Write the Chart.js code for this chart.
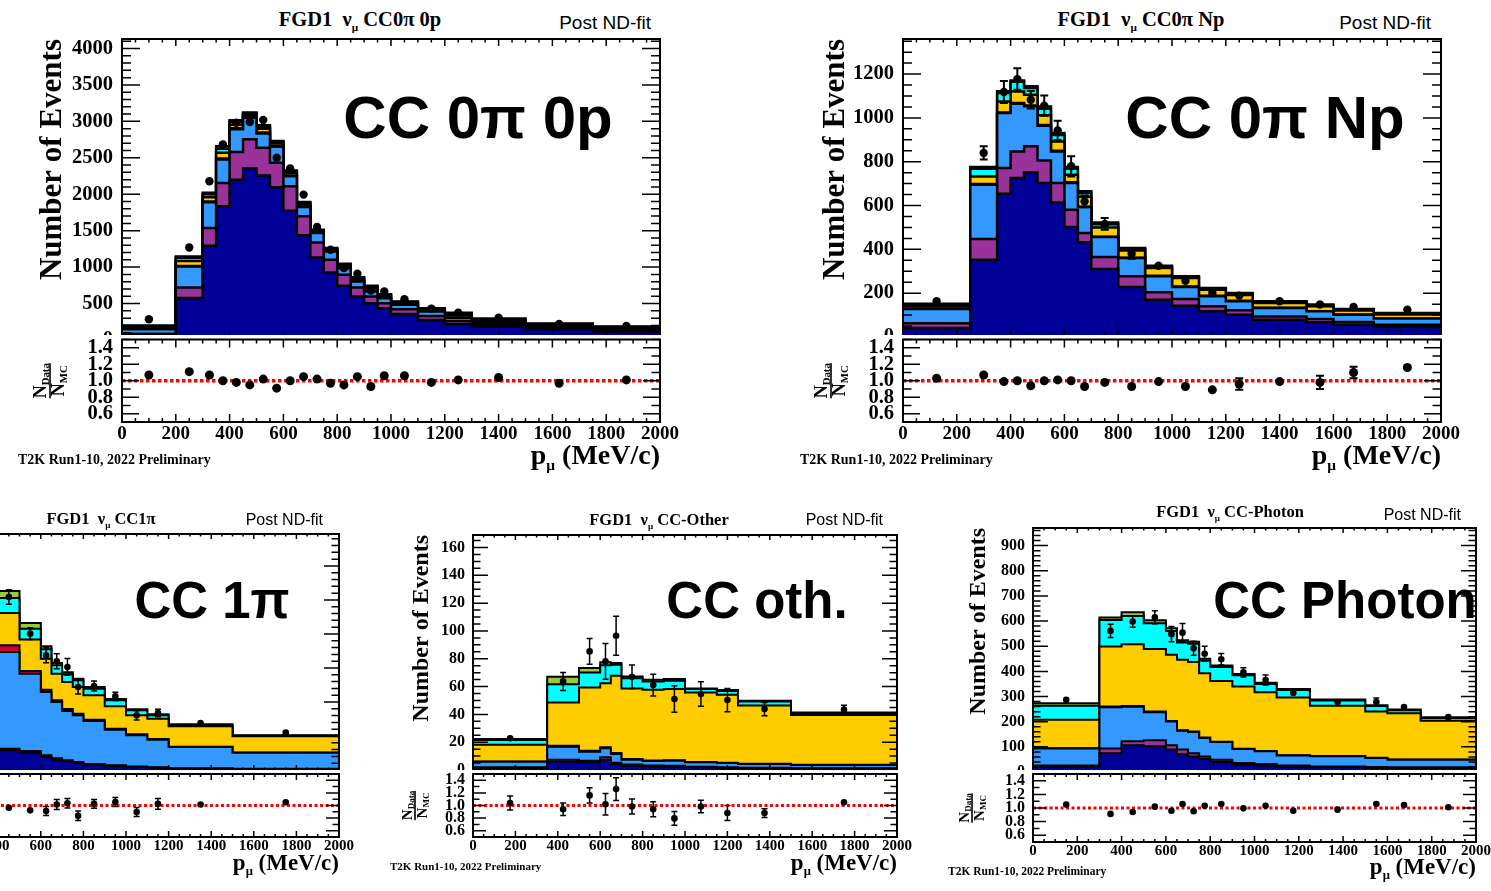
<!DOCTYPE html>
<html>
<head>
<meta charset="utf-8">
<script src="https://cdn.jsdelivr.net/npm/chart.js@4.4.1/dist/chart.umd.min.js"></script>
<style>
  body { margin: 0; width: 1491px; height: 891px; overflow: hidden; background: #fff; position: relative; }
  canvas { position: absolute; }
  .t { position: absolute; white-space: nowrap; color: #000; line-height: 1; }
  .serif { font-family: "Liberation Serif", "Times New Roman", serif; font-weight: bold; }
  .sans { font-family: "Liberation Sans", Arial, sans-serif; }
  .big { font-family: "Liberation Sans", Arial, sans-serif; font-weight: bold; }
  .sub { font-size: 0.55em; position: relative; top: 0.4em; }
</style>
</head>
<body>
<script>
// ---- axis ticks ----
const MOMENTUM_TICKS = [0, 200, 400, 600, 800, 1000, 1200, 1400, 1600, 1800, 2000];
const RATIO_TICKS = [0.6, 0.8, 1.0, 1.2, 1.4];
const s0pYTicks = [0, 500, 1000, 1500, 2000, 2500, 3000, 3500, 4000];
const sNpYTicks = [0, 200, 400, 600, 800, 1000, 1200];
const s1piYTicks = [0, 500, 1000, 1500, 2000, 2500, 3000];
const sOthYTicks = [0, 20, 40, 60, 80, 100, 120, 140, 160];
const sPhoYTicks = [0, 100, 200, 300, 400, 500, 600, 700, 800, 900];

// ---- FGD1 numu CC0pi 0p ----
const s0pEdges = [0, 200, 300, 350, 400, 450, 500, 550, 600, 650, 700, 750, 800, 850, 900, 950, 1000, 1100, 1200, 1300, 1500, 1750, 2000];
const s0pQE  = [78, 575, 1293, 1835, 2200, 2353, 2257, 2096, 1775, 1436, 1133, 927, 743, 596, 505, 436, 358, 275, 220, 183, 147, 115];
const s0pMEC = [8, 145, 244, 320, 380, 400, 380, 335, 335, 261, 206, 174, 151, 124, 91, 69, 64, 55, 40, 25, 15, 12];
const s0pRES = [62, 290, 353, 322, 310, 297, 198, 220, 138, 129, 129, 115, 92, 83, 69, 68, 60, 60, 45, 30, 23, 23];
const s0pCOH = [2, 5, 10, 13, 15, 15, 12, 10, 8, 6, 4, 3, 3, 2, 2, 2, 1, 1, 1, 1, 1, 1];
const s0pDIS = [25, 70, 60, 80, 50, 25, 50, 35, 35, 30, 20, 20, 28, 30, 40, 30, 25, 25, 35, 30, 20, 18];
const s0pNC  = [15, 45, 40, 55, 40, 20, 30, 20, 20, 18, 12, 12, 15, 15, 20, 13, 12, 12, 20, 15, 12, 10];
const s0pBkg = [10, 15, 20, 35, 20, 10, 20, 15, 15, 14, 10, 10, 14, 12, 16, 10, 7, 8, 12, 10, 8, 6];
const s0pData = [284, 1270, 2179, 2683, 2981, 2990, 3018, 2500, 2353, 1995, 1550, 1238, 986, 908, 679, 665, 560, 431, 376, 307, 220, 193];
const s0pDataErr = [17, 36, 47, 55, 60, 60, 60, 50, 49, 45, 39, 35, 31, 30, 26, 26, 24, 21, 19, 18, 15, 14];
const s0pRatio = [1.07, 1.11, 1.07, 1.00, 0.98, 0.95, 1.02, 0.91, 1.00, 1.05, 1.02, 0.97, 0.95, 1.05, 0.93, 1.06, 1.06, 0.98, 1.01, 1.04, 0.97, 1.01];
const s0pRatioErr = [0.02, 0.01, 0.01, 0.01, 0.01, 0.01, 0.01, 0.01, 0.01, 0.01, 0.01, 0.01, 0.02, 0.035, 0.035, 0.035, 0.02, 0.035, 0.035, 0.02, 0.02, 0.035];

// ---- FGD1 numu CC0pi Np ----
const sNpEdges = [0, 250, 350, 400, 450, 500, 550, 600, 650, 700, 800, 900, 1000, 1100, 1200, 1300, 1500, 1600, 1750, 2000];
const sNpQE  = [41, 353, 654, 726, 751, 703, 614, 502, 432, 310, 228, 170, 143, 117, 102, 79, 67, 56, 46];
const sNpMEC = [22, 94, 117, 121, 119, 103, 89, 79, 43, 55, 49, 34, 30, 23, 20, 15, 15, 12, 10];
const sNpRES = [65, 248, 251, 218, 183, 158, 144, 122, 118, 91, 83, 73, 55, 46, 41, 38, 35, 34, 28];
const sNpCOH = [2, 3, 3, 3, 3, 3, 3, 3, 2, 2, 2, 2, 2, 2, 2, 1, 1, 1, 1];
const sNpDIS = [12, 35, 50, 52, 50, 45, 42, 35, 45, 42, 33, 36, 39, 28, 27, 22, 22, 18, 18];
const sNpNC  = [6, 35, 38, 45, 30, 30, 30, 28, 17, 15, 7, 6, 5, 5, 5, 5, 5, 4, 4];
const sNpBkg = [4, 8, 8, 6, 8, 10, 9, 7, 8, 8, 4, 4, 3, 3, 4, 3, 3, 3, 3];
const sNpData = [163, 840, 1118, 1177, 1083, 1056, 943, 779, 619, 516, 380, 325, 257, 201, 189, 163, 148, 137, 125];
const sNpDataErr = [12, 30, 50, 49, 40, 46, 44, 46, 27, 27, 23, 18, 16, 14, 14, 13, 12, 12, 11];
const sNpRatio = [1.03, 1.07, 0.99, 1.00, 0.94, 1.00, 1.01, 1.00, 0.93, 0.98, 0.93, 0.99, 0.93, 0.89, 0.96, 0.99, 0.98, 1.10, 1.16];
const sNpRatioErr = [0.05, 0.02, 0.02, 0.03, 0.02, 0.02, 0.02, 0.06, 0.05, 0.02, 0.04, 0.05, 0.05, 0.06, 0.07, 0.05, 0.08, 0.07, 0.05];

// ---- FGD1 numu CC1pi ----
const s1piEdges = [400, 500, 600, 650, 700, 750, 800, 900, 1000, 1100, 1200, 1500, 2000];
const s1piQE  = [289, 255, 191, 152, 127, 103, 78, 59, 44, 34, 20, 15];
const s1piMEC = [25, 24, 25, 20, 18, 15, 12, 10, 8, 7, 5, 4];
const s1piRES = [1421, 1138, 931, 828, 723, 686, 630, 524, 458, 405, 313, 236];
const s1piCOH = [98, 39, 34, 25, 29, 24, 20, 15, 15, 10, 4, 2];
const s1piDIS = [476, 461, 456, 392, 397, 393, 358, 328, 279, 299, 300, 238];
const s1piNC  = [220, 161, 138, 122, 113, 98, 98, 89, 73, 49, 15, 8];
const s1piBkg = [103, 84, 44, 35, 29, 24, 25, 19, 15, 15, 15, 7];
const s1piData = [2544, 2005, 1686, 1598, 1515, 1221, 1235, 1083, 804, 838, 691, 549];
const s1piDataErr = [108, 85, 110, 110, 123, 103, 74, 60, 69, 56, 25, 25];
const s1piRatio = [0.964, 0.923, 0.913, 1.015, 1.036, 0.836, 1.026, 1.056, 0.897, 1.026, 1.015, 1.051];
const s1piRatioErr = [0.02, 0.02, 0.07, 0.08, 0.075, 0.075, 0.07, 0.07, 0.07, 0.085, 0.05, 0.02];

// ---- FGD1 numu CC-Other ----
const sOthEdges = [0, 350, 500, 600, 650, 700, 800, 900, 1000, 1150, 1250, 1500, 2000];
const sOthQE  = [1.5, 6, 5.5, 7.4, 4.3, 3.1, 2.6, 2.4, 1.9, 1.4, 1.2, 1];
const sOthMEC = [0.5, 1.4, 1.2, 1.7, 1, 0.8, 0.6, 0.6, 0.5, 0.5, 0.4, 0.3];
const sOthRES = [4, 9.4, 6.5, 6.5, 6.2, 3.5, 3.3, 3.7, 3.1, 3.1, 2.7, 2.3];
const sOthCOH = [0.2, 0.7, 0.7, 0.7, 0.7, 0.5, 0.3, 0.3, 0.3, 0.3, 0.2, 0.2];
const sOthDIS = [12, 31, 45.5, 46, 55.6, 50.8, 50.9, 51.2, 50, 48.8, 41.9, 35.7];
const sOthNC  = [3.3, 13.2, 10.8, 13.1, 7.9, 7.2, 6, 6, 2.4, 2.7, 2.9, 1.5];
const sOthBkg = [0.8, 5.3, 3.1, 2, 1.2, 1.4, 1.2, 1.2, 0.5, 0.7, 0.5, 0.4];
const sOthData = [22.8, 63.7, 85.3, 78.1, 96.5, 67.1, 61.1, 51, 54.6, 50.3, 43.8, 43.4];
const sOthDataErr = [2.7, 6.5, 9.3, 12.8, 14, 8.4, 7.8, 9.5, 8.8, 8.4, 4.8, 3.2];
const sOthRatio = [1.04, 0.94, 1.16, 1.02, 1.26, 0.985, 0.94, 0.795, 0.985, 0.88, 0.88, 1.05];
const sOthRatioErr = [0.11, 0.10, 0.12, 0.17, 0.18, 0.12, 0.12, 0.11, 0.10, 0.12, 0.07, 0.06];

// ---- FGD1 numu CC-Photon ----
const sPhoEdges = [0, 300, 400, 500, 600, 650, 700, 750, 800, 900, 1000, 1100, 1250, 1500, 1600, 1750, 2000];
const sPhoQE  = [22, 75, 106, 102, 89, 71, 62, 53, 40, 29, 26, 21, 19, 16, 16, 15];
const sPhoMEC = [4, 18, 16, 24, 17, 18, 13, 9, 9, 7, 6, 5, 3, 4, 3, 4];
const sPhoRES = [67, 164, 137, 112, 95, 75, 84, 73, 70, 55, 50, 40, 41, 36, 30, 30];
const sPhoCOH = [1, 3, 3, 3, 2, 2, 2, 2, 1, 1, 1, 1, 1, 1, 1, 1];
const sPhoDIS = [114, 239, 246, 248, 263, 280, 276, 256, 242, 248, 234, 229, 199, 184, 184, 154];
const sPhoNC  = [55, 105, 112, 102, 95, 69, 73, 50, 55, 45, 33, 30, 21, 21, 11, 11];
const sPhoBkg = [10, 10, 15, 12, 10, 9, 8, 7, 6, 5, 5, 4, 4, 3, 3, 3];
const sPhoData = [287, 561, 598, 615, 548, 554, 492, 470, 448, 396, 366, 314, 278, 278, 258, 218];
const sPhoDataErr = [9, 26, 23, 26, 30, 36, 28, 30, 23, 18, 20, 13, 12, 16, 15, 10];
const sPhoRatio = [1.05, 0.913, 0.942, 1.02, 0.96, 1.058, 0.952, 1.034, 1.058, 0.995, 1.034, 0.96, 0.976, 1.058, 1.043, 1.01];
const sPhoRatioErr = [0.015, 0.02, 0.02, 0.02, 0.05, 0.045, 0.045, 0.05, 0.035, 0.035, 0.04, 0.02, 0.02, 0.04, 0.04, 0.02];

// stack fill colours, bottom to top
const componentColors = ['#000099', '#993399', '#3399ff', '#cc0033', '#ffcc00', '#00ffff', '#99cc33'];

const SERIF = '"Liberation Serif", "Times New Roman", serif';
Chart.defaults.font.family = SERIF;
Chart.defaults.font.weight = 'bold';
Chart.defaults.color = '#000';

// ticks on all four sides of the frame, pointing inwards, then the frame itself
const frameTicks = {
  id: 'frameTicks',
  afterDatasetsDraw(chart, args, o) {
    const { ctx, chartArea: a, scales } = chart;
    const walk = (scale, step, sub, fn) => {
      const minor = step / sub;
      const k0 = Math.ceil(scale.min / minor - 1e-6);
      const k1 = Math.floor(scale.max / minor + 1e-6);
      for (let k = k0; k <= k1; k++) {
        const major = Math.abs(k / sub - Math.round(k / sub)) < 1e-6;
        fn(scale.getPixelForValue(k * minor), major);
      }
    };
    ctx.save();
    ctx.strokeStyle = '#000';
    ctx.lineWidth = 1.5;
    ctx.beginPath();
    walk(scales.x, o.xStep, o.xSub, (px, major) => {
      const len = major ? o.xLen : o.xLen / 2;
      ctx.moveTo(px, a.bottom); ctx.lineTo(px, a.bottom - len);
      ctx.moveTo(px, a.top); ctx.lineTo(px, a.top + len);
    });
    walk(scales.y, o.yStep, o.ySub, (py, major) => {
      const len = major ? o.yLen : o.yLen / 2;
      ctx.moveTo(a.left, py); ctx.lineTo(a.left + len, py);
      ctx.moveTo(a.right, py); ctx.lineTo(a.right - len, py);
    });
    ctx.stroke();
    ctx.lineWidth = 2;
    ctx.strokeRect(a.left, a.top, a.right - a.left, a.bottom - a.top);
    ctx.restore();
  }
};

// vertical error bars with small caps for datasets carrying an errorBars array
const errorBars = {
  id: 'errorBars',
  afterDatasetsDraw(chart, args, o) {
    const { ctx, chartArea: a, scales: { x, y } } = chart;
    ctx.save();
    ctx.beginPath();
    ctx.rect(a.left, a.top, a.right - a.left, a.bottom - a.top);
    ctx.clip();
    ctx.strokeStyle = '#000';
    ctx.lineWidth = o.width;
    chart.data.datasets.forEach(ds => {
      if (!ds.errorBars) return;
      ds.data.forEach((pt, i) => {
        const px = x.getPixelForValue(pt.x);
        const lo = y.getPixelForValue(pt.y - ds.errorBars[i]);
        const hi = y.getPixelForValue(pt.y + ds.errorBars[i]);
        if (lo - hi <= 2 * ds.pointRadius + 1) return;
        ctx.beginPath();
        ctx.moveTo(px, lo); ctx.lineTo(px, hi);
        ctx.moveTo(px - o.cap, lo); ctx.lineTo(px + o.cap, lo);
        ctx.moveTo(px - o.cap, hi); ctx.lineTo(px + o.cap, hi);
        ctx.stroke();
      });
    });
    ctx.restore();
  }
};

// N_Data / N_MC written sideways next to the ratio axis
const ratioTitle = {
  id: 'ratioTitle',
  afterDraw(chart, args, o) {
    if (!o.size) return;
    const { ctx, chartArea: a } = chart;
    const s = o.size, sub = s * 0.6;
    ctx.save();
    ctx.translate(o.x, (a.top + a.bottom) / 2);
    ctx.rotate(-Math.PI / 2);
    ctx.fillStyle = '#000';
    ctx.textBaseline = 'alphabetic';
    const piece = (main, small, base) => {
      ctx.font = `bold ${s}px ${SERIF}`;
      const w1 = ctx.measureText(main).width;
      ctx.font = `bold ${sub}px ${SERIF}`;
      const w2 = ctx.measureText(small).width;
      const x0 = -(w1 + w2) / 2;
      ctx.font = `bold ${s}px ${SERIF}`;
      ctx.fillText(main, x0, base);
      ctx.font = `bold ${sub}px ${SERIF}`;
      ctx.fillText(small, x0 + w1, base + s * 0.16);
      return w1 + w2;
    };
    const w = Math.max(piece('N', 'Data', -s * 0.2), piece('N', 'MC', s * 0.8));
    ctx.fillRect(-w / 2, -0.8, w, 1.6);
    ctx.restore();
  }
};

const styles = {
  large: { tick: 20.5, xFont: 19, yLen: 18, xLen: 7, rYLen: 17, rXLen: 8, dot: 4.2, rDot: 4.5, yTitle: 31,
           tickPad: 9, xAxisH: 30, xPad: 1, redW: 3.5, dash: [3.5, 2.5], cap: 4, errW: 2, frac: 18, line: 2.5 },
  small: { tick: 16, xFont: 15, yLen: 15, xLen: 5, rYLen: 13, rXLen: 6, dot: 3.3, rDot: 3.3, yTitle: 24,
           tickPad: 8, xAxisH: 24, xPad: 0, redW: 3, dash: [3, 2.5], cap: 3, errW: 1.5, frac: 15, line: 2 }
};

const panels = [
  { st: styles.large, left: 122, right: 660, top: 39, zero: 340, rTop: 337, rBottom: 422, axisW: 100,
    yMax: 4130, yTicks: s0pYTicks, yStep: 500, ySub: 5, yTitleX: 53, fracX: 50,
    edges: s0pEdges, parts: [s0pQE, s0pMEC, s0pRES, s0pCOH, s0pDIS, s0pNC, s0pBkg],
    counts: s0pData, countErr: s0pDataErr, ratio: s0pRatio, ratioErr: s0pRatioErr },
  { st: styles.large, left: 903, right: 1441, top: 39, zero: 337, rTop: 337, rBottom: 422, axisW: 100,
    yMax: 1360, yTicks: sNpYTicks, yStep: 200, ySub: 4, yTitleX: 836, fracX: 831,
    edges: sNpEdges, parts: [sNpQE, sNpMEC, sNpRES, sNpCOH, sNpDIS, sNpNC, sNpBkg],
    counts: sNpData, countErr: sNpDataErr, ratio: sNpRatio, ratioErr: sNpRatioErr },
  { st: styles.small, left: -87, right: 339, top: 534, zero: 770, rTop: 772, rBottom: 837, axisW: 75,
    yMax: 3470, yTicks: s1piYTicks, yStep: 500, ySub: 5, yTitleX: null, fracX: null,
    edges: s1piEdges, parts: [s1piQE, s1piMEC, s1piRES, s1piCOH, s1piDIS, s1piNC, s1piBkg],
    counts: s1piData, countErr: s1piDataErr, ratio: s1piRatio, ratioErr: s1piRatioErr },
  { st: styles.small, left: 473, right: 897, top: 535, zero: 770, rTop: 772, rBottom: 837, axisW: 75,
    yMax: 169, yTicks: sOthYTicks, yStep: 20, ySub: 4, yTitleX: 422, fracX: 415,
    edges: sOthEdges, parts: [sOthQE, sOthMEC, sOthRES, sOthCOH, sOthDIS, sOthNC, sOthBkg],
    counts: sOthData, countErr: sOthDataErr, ratio: sOthRatio, ratioErr: sOthRatioErr },
  { st: styles.small, left: 1033, right: 1476, top: 528, zero: 772, rTop: 772, rBottom: 842, axisW: 85,
    yMax: 970, yTicks: sPhoYTicks, yStep: 100, ySub: 5, yTitleX: 979, fracX: 972,
    edges: sPhoEdges, parts: [sPhoQE, sPhoMEC, sPhoRES, sPhoCOH, sPhoDIS, sPhoNC, sPhoBkg],
    counts: sPhoData, countErr: sPhoDataErr, ratio: sPhoRatio, ratioErr: sPhoRatioErr }
];

function addCanvas(left, top, w, h) {
  const c = document.createElement('canvas');
  c.width = w; c.height = h;
  c.style.left = left + 'px'; c.style.top = top + 'px';
  document.body.appendChild(c);
  return c;
}

function buildPanel(p) {
  const st = p.st;
  const frameW = p.right - p.left;
  const canvasLeft = p.left - p.axisW;
  const centres = p.edges.slice(1).map((e, i) => (e + p.edges[i]) / 2);

  // ---- stacked histogram pad ----
  const padTop = 6, padBottom = 14, padRight = 6;
  const main = addCanvas(canvasLeft, p.top - padTop, p.axisW + frameW + padRight, padTop + (p.zero - p.top) + padBottom);

  let running = p.parts[0].map(() => 0);
  const datasets = p.parts.map((part, k) => {
    running = running.map((s, i) => s + part[i]);
    const last = running.length - 1;
    return {
      data: p.edges.map((e, i) => ({ x: e, y: running[Math.min(i, last)] })),
      stepped: true, fill: 'origin', backgroundColor: componentColors[k],
      borderColor: '#000', borderWidth: st.line, pointRadius: 0, order: k + 1
    };
  });
  datasets.push({
    data: centres.map((c, i) => ({ x: c, y: p.counts[i] })),
    showLine: false, pointRadius: st.dot, pointBackgroundColor: '#000', pointBorderWidth: 0,
    errorBars: p.countErr, order: 0
  });

  new Chart(main, {
    type: 'line',
    data: { datasets },
    plugins: [errorBars, frameTicks],
    options: {
      animation: false, responsive: false, events: [],
      layout: { padding: { top: padTop, bottom: padBottom, right: padRight, left: 0 } },
      plugins: {
        legend: { display: false }, tooltip: { enabled: false },
        errorBars: { width: st.errW, cap: st.cap },
        frameTicks: { xStep: 200, xSub: 4, xLen: st.xLen, yStep: p.yStep, ySub: p.ySub, yLen: st.yLen }
      },
      scales: {
        x: { type: 'linear', min: 0, max: 2000, display: false },
        y: {
          type: 'linear', min: 0, max: p.yMax,
          afterBuildTicks: s => { s.ticks = p.yTicks.map(v => ({ value: v })); },
          afterFit: s => { s.width = p.axisW; s.paddingTop = 0; s.paddingBottom = 0; },
          grid: { display: false, drawTicks: false }, border: { display: false },
          ticks: { autoSkip: false, padding: st.tickPad, font: { size: st.tick, weight: 'bold' }, callback: v => String(v) },
          title: {
            display: p.yTitleX !== null, text: 'Number of Events', align: 'end',
            font: { size: st.yTitle, weight: 'bold', lineHeight: 1 },
            padding: { top: (p.yTitleX || 0) - canvasLeft - st.yTitle / 2, bottom: 0 }
          }
        }
      }
    }
  });

  // ---- data / MC ratio pad ----
  const rPadTop = 2, rPadRight = 32;
  const ratio = addCanvas(canvasLeft, p.rTop - rPadTop, p.axisW + frameW + rPadRight, rPadTop + (p.rBottom - p.rTop) + st.xAxisH);
  ratio.style.background = '#fff';

  new Chart(ratio, {
    type: 'line',
    data: {
      datasets: [
        { data: [{ x: 0, y: 1 }, { x: 2000, y: 1 }], borderColor: '#ff0000', borderWidth: st.redW,
          borderDash: st.dash, pointRadius: 0, order: 1 },
        { data: centres.map((c, i) => ({ x: c, y: p.ratio[i] })), showLine: false, pointRadius: st.rDot,
          pointBackgroundColor: '#000', pointBorderWidth: 0, errorBars: p.ratioErr, order: 0 }
      ]
    },
    plugins: [errorBars, frameTicks, ratioTitle],
    options: {
      animation: false, responsive: false, events: [],
      layout: { padding: { top: rPadTop, bottom: 0, right: rPadRight, left: 0 } },
      plugins: {
        legend: { display: false }, tooltip: { enabled: false },
        errorBars: { width: st.errW, cap: st.cap },
        frameTicks: { xStep: 200, xSub: 4, xLen: st.rXLen, yStep: 0.2, ySub: 2, yLen: st.rYLen },
        ratioTitle: { size: p.fracX === null ? 0 : st.frac, x: (p.fracX || 0) - canvasLeft }
      },
      scales: {
        x: {
          type: 'linear', min: 0, max: 2000,
          afterBuildTicks: s => { s.ticks = MOMENTUM_TICKS.map(v => ({ value: v })); },
          afterFit: s => { s.height = st.xAxisH; s.paddingLeft = 0; s.paddingRight = 0; },
          grid: { display: false, drawTicks: false }, border: { display: false },
          ticks: { padding: st.xPad, autoSkip: false, maxRotation: 0, font: { size: st.xFont, weight: 'bold' }, callback: v => String(v) }
        },
        y: {
          type: 'linear', min: 0.5, max: 1.5,
          afterBuildTicks: s => { s.ticks = RATIO_TICKS.map(v => ({ value: v })); },
          afterFit: s => { s.width = p.axisW; s.paddingTop = 0; s.paddingBottom = 0; },
          grid: { display: false, drawTicks: false }, border: { display: false },
          ticks: { autoSkip: false, padding: st.tickPad, font: { size: st.tick, weight: 'bold' }, callback: v => v.toFixed(1) }
        }
      }
    }
  });
}

panels.forEach(buildPanel);

// ---- text ----
function label(html, x, y, cls, size, anchor) {
  const d = document.createElement('div');
  d.className = 't ' + cls;
  d.innerHTML = html;
  d.style.fontSize = size + 'px';
  d.style.left = x + 'px';
  d.style.top = y + 'px';
  d.style.transform = anchor === 'left' ? 'translate(0,-50%)' : anchor === 'right' ? 'translate(-100%,-50%)' : 'translate(-50%,-50%)';
  document.body.appendChild(d);
}

const numu = 'ν<span class="sub">μ</span>';
const pmu = 'p<span class="sub">μ</span> (MeV/c)';
const prelim = 'T2K Run1-10, 2022 Preliminary';

label('FGD1&nbsp;&nbsp;' + numu + ' CC0π 0p', 360, 19, 'serif', 20.5, 'center');
label('Post ND-fit', 651, 22, 'sans', 19, 'right');
label('CC 0π 0p', 478, 118, 'big', 60, 'center');
label(prelim, 18, 460, 'serif', 14, 'left');
label(pmu, 660, 455, 'serif', 28, 'right');

label('FGD1&nbsp;&nbsp;' + numu + ' CC0π Np', 1141, 19, 'serif', 20.5, 'center');
label('Post ND-fit', 1431, 22, 'sans', 19, 'right');
label('CC 0π Np', 1265, 118, 'big', 60, 'center');
label(prelim, 800, 460, 'serif', 14, 'left');
label(pmu, 1441, 455, 'serif', 28, 'right');

label('FGD1&nbsp;&nbsp;' + numu + ' CC1π', 101, 519, 'serif', 16.5, 'center');
label('Post ND-fit', 323, 520, 'sans', 16, 'right');
label('CC 1π', 212, 600, 'big', 51, 'center');
label(pmu, 339, 862, 'serif', 23, 'right');

label('FGD1&nbsp;&nbsp;' + numu + ' CC-Other', 659, 520, 'serif', 16.5, 'center');
label('Post ND-fit', 883, 520, 'sans', 16, 'right');
label('CC oth.', 757, 600, 'big', 51, 'center');
label(prelim, 390, 866, 'serif', 11, 'left');
label(pmu, 897, 862, 'serif', 23, 'right');

label('FGD1&nbsp;&nbsp;' + numu + ' CC-Photon', 1230, 512, 'serif', 16.5, 'center');
label('Post ND-fit', 1461, 515, 'sans', 16, 'right');
label('CC Photon', 1345, 600, 'big', 51, 'center');
label(prelim, 948, 872, 'serif', 11.5, 'left');
label(pmu, 1476, 866, 'serif', 23, 'right');
</script>
</body>
</html>
